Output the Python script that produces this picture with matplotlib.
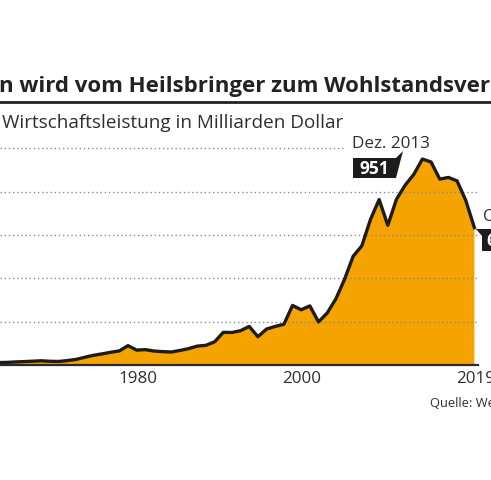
import matplotlib
matplotlib.use("Agg")
import matplotlib.pyplot as plt
from matplotlib.patches import Polygon

# ---------------- data ----------------
years = list(range(1960, 2020))
gdp = [14.0, 8.0, 8.9, 10.3, 11.2, 11.9, 14.1, 15.7, 17.5, 19.5,
       17.1, 16.4, 20.4, 25.7, 35.6, 44.6, 51.3, 58.7, 65.1, 89.4,
       68.8, 71.0, 64.5, 61.7, 60.0, 67.2, 75.7, 87.2, 90.9, 107.1,
       150.7, 150.0, 158.5, 178.0, 130.7, 166.0, 178.0, 188.0, 275.0, 255.0,
       273.0, 199.0, 240.0, 305.0, 395.0, 502.0, 550.0, 672.0, 764.0, 645.0,
       765.0, 830.0, 880.0, 951.0, 937.0, 858.0, 866.0, 850.0, 760.0, 634.0]
grid_values = [200, 400, 600, 800, 1000]
tick_labels = ["1980", "2000", "2019"]
tick_positions = [1980.1, 1999.1, 2019.1]

title = "n wird vom Heilsbringer zum Wohlstandsver"
subtitle = "Wirtschaftsleistung in Milliarden Dollar"
peak_label = "Dez. 2013"
peak_value = "951"
end_label = "Okt. 2019"
end_value = "634"
source = "Quelle: Weltbank"

ORANGE = "#F5A300"
DARK = "#1c1c1c"
TXT = "#2e2e2e"

W, H = 491, 480
fig = plt.figure(figsize=(W / 100, H / 100), dpi=100)
fig.patch.set_facecolor("white")
FONT = "Open Sans"
renderer = fig.canvas.get_renderer()


def fx(px):
    return px / W


def fy(py):
    return 1 - py / H


def fit(t, ref_text, target_px):
    """Scale font size of text t so that ref_text would span target_px."""
    orig = t.get_text()
    t.set_text(ref_text)
    for _ in range(3):
        w = t.get_window_extent(renderer).width
        t.set_fontsize(t.get_fontsize() * target_px / w)
    t.set_text(orig)


def year_at(px):
    return 1979 + (px - 128) / 8.66


# axes geometry in pixels
ax_left, ax_right = 0, 478
ax_top, ax_bottom = 148.4, 365
ax = fig.add_axes([fx(ax_left), fy(ax_bottom), fx(ax_right - ax_left),
                   (ax_bottom - ax_top) / H])
ax.set_xlim(year_at(ax_left), year_at(ax_right))
ax.set_ylim(0, 1000)
ax.set_facecolor("none")
for s in ax.spines.values():
    s.set_visible(False)
ax.set_yticks([])

ax.fill_between(years, 0, gdp, color=ORANGE, lw=0, zorder=1)
ax.plot(years, gdp, color=DARK, lw=2.4, zorder=4, solid_joinstyle="round")

for v in grid_values:
    xmax = 1.0
    if v == 1000:
        xmax = (343 - ax_left) / (ax_right - ax_left)
    ax.axhline(v, xmin=0, xmax=xmax, color="#8a8a8a", lw=1.0,
               linestyle=(0, (1, 2)), zorder=2, clip_on=False)
ax.axhline(0, color="#2a2a2a", lw=1.6, zorder=5, clip_on=False)

ax.set_xticks(tick_positions, tick_labels)
ax.tick_params(axis="x", length=0, pad=4, labelsize=12, labelcolor=TXT)
for lab in ax.get_xticklabels():
    lab.set_fontfamily(FONT)
fit(ax.get_xticklabels()[0], "1980", 39)
fs_tick = ax.get_xticklabels()[0].get_fontsize()
ax.tick_params(axis="x", labelsize=fs_tick)

# ---------------- texts ----------------
t = fig.text(fx(-1), fy(92), title, fontsize=16.5, fontweight="bold",
             family=FONT, color="#222222", ha="left", va="baseline")
fit(t, title, 492)
fig.add_artist(plt.Line2D([0, 1], [fy(101.7), fy(101.7)], color="#222222",
                          lw=2.0, transform=fig.transFigure))
t = fig.text(fx(2), fy(128), subtitle, fontsize=12.8, family=FONT,
             color=TXT, ha="left", va="baseline")
fit(t, subtitle, 341)

t = fig.text(fx(352), fy(148.5), peak_label, fontsize=12.2, family=FONT,
             color=TXT, ha="left", va="baseline")
fit(t, peak_label, 78)
fs_lab = t.get_fontsize()
fig.add_artist(Polygon([(fx(353), fy(158)), (fx(396), fy(158)),
                        (fx(403), fy(151)), (fx(396), fy(178)),
                        (fx(353), fy(178))], closed=True,
                       transform=fig.transFigure, facecolor=DARK,
                       edgecolor="none", zorder=6))
fig.text(fx(374), fy(168.5), peak_value, fontsize=12.5, family=FONT,
         fontweight="bold", color="white", ha="center", va="center", zorder=7)

fig.text(fx(483), fy(221), end_label, fontsize=fs_lab, family=FONT,
         color=TXT, ha="left", va="baseline")
fig.add_artist(Polygon([(fx(476), fy(229)), (fx(520), fy(229)),
                        (fx(520), fy(251)), (fx(482), fy(251)),
                        (fx(482), fy(236))], closed=True,
                       transform=fig.transFigure, facecolor=DARK,
                       edgecolor="none", zorder=6))
fig.text(fx(486), fy(240.5), end_value, fontsize=12.5, family=FONT,
         fontweight="bold", color="white", ha="left", va="center", zorder=7)

t = fig.text(fx(430), fy(407), source, fontsize=10.5, family=FONT,
             color=TXT, ha="left", va="baseline")
fit(t, "Quelle:", 42)

fig.savefig("out.png", dpi=100)
